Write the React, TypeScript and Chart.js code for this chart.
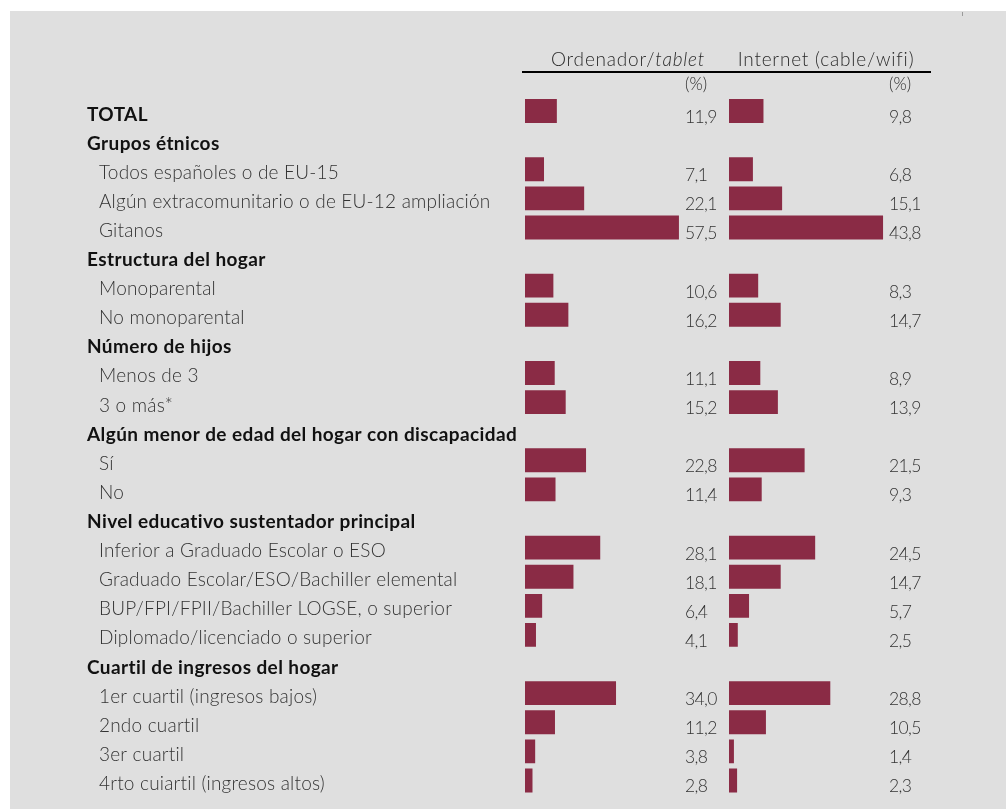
import React, { useEffect, useRef } from 'react';
import { Chart, registerables } from 'chart.js';

Chart.register(...registerables);

const rowLabels = [
  'TOTAL',
  'Grupos étnicos',
  'Todos españoles o de EU-15',
  'Algún extracomunitario o de EU-12 ampliación',
  'Gitanos',
  'Estructura del hogar',
  'Monoparental',
  'No monoparental',
  'Número de hijos',
  'Menos de 3',
  '3 o más*',
  'Algún menor de edad del hogar con discapacidad',
  'Sí',
  'No',
  'Nivel educativo sustentador principal',
  'Inferior a Graduado Escolar o ESO',
  'Graduado Escolar/ESO/Bachiller elemental',
  'BUP/FPI/FPII/Bachiller LOGSE, o superior',
  'Diplomado/licenciado o superior',
  'Cuartil de ingresos del hogar',
  '1er cuartil (ingresos bajos)',
  '2ndo cuartil',
  '3er cuartil',
  '4rto cuiartil (ingresos altos)',
];

const boldRows = [true, true, false, false, false, true, false, false, true, false, false, true, false, false, true, false, false, false, false, true, false, false, false, false];

const ordenadorValues = [11.9, null, 7.1, 22.1, 57.5, null, 10.6, 16.2, null, 11.1, 15.2, null, 22.8, 11.4, null, 28.1, 18.1, 6.4, 4.1, null, 34.0, 11.2, 3.8, 2.8];
const internetValues = [9.8, null, 6.8, 15.1, 43.8, null, 8.3, 14.7, null, 8.9, 13.9, null, 21.5, 9.3, null, 24.5, 14.7, 5.7, 2.5, null, 28.8, 10.5, 1.4, 2.3];

const columnTitles = [['Ordenador/', 'tablet'], ['Internet (cable/wifi)', '']];
const unitLabel = '(%)';

const BAR = '#8a2b45';
const FONT = 'Lato, "DejaVu Sans", sans-serif';

const fmt = (v: number) => v.toFixed(1).replace('.', ',');

const tablePlugin = {
  id: 'tablePlugin',
  beforeDraw(chart: any) {
    const ctx = chart.ctx;
    ctx.save();
    ctx.fillStyle = '#ffffff';
    ctx.fillRect(0, 0, chart.width, chart.height);
    ctx.fillStyle = '#dfdfdf';
    ctx.fillRect(10, 11, chart.width - 10, chart.height - 11);
    ctx.strokeStyle = '#9a9a9a';
    ctx.lineWidth = 1;
    ctx.beginPath();
    ctx.moveTo(962.5, 12);
    ctx.lineTo(962.5, 16);
    ctx.stroke();
    ctx.restore();
  },
  afterDatasetsDraw(chart: any) {
    const ctx = chart.ctx;
    const y = chart.scales.y;
    const xs = [chart.scales.x1, chart.scales.x2];
    const series = [ordenadorValues, internetValues];
    ctx.save();

    // column headers
    ctx.textBaseline = 'alphabetic';
    ctx.fillStyle = '#2a2a2a';
    ctx.letterSpacing = '0.8px';
    const headerCenters = [xs[0].left + 103, xs[1].left + 97];
    columnTitles.forEach((parts, i) => {
      ctx.font = `300 19px ${FONT}`;
      const w1 = ctx.measureText(parts[0]).width;
      ctx.font = `italic 300 19px ${FONT}`;
      const w2 = parts[1] ? ctx.measureText(parts[1]).width : 0;
      const start = headerCenters[i] - (w1 + w2) / 2;
      ctx.textAlign = 'left';
      ctx.font = `300 19px ${FONT}`;
      ctx.fillText(parts[0], start, 66);
      if (parts[1]) {
        ctx.font = `italic 300 19px ${FONT}`;
        ctx.fillText(parts[1], start + w1, 66);
      }
    });
    ctx.strokeStyle = '#000';
    ctx.lineWidth = 2;
    ctx.beginPath();
    ctx.moveTo(522, 72);
    ctx.lineTo(931, 72);
    ctx.stroke();

    ctx.letterSpacing = '0px';
    ctx.font = `300 17px ${FONT}`;
    ctx.textAlign = 'left';
    xs.forEach((s) => {
      ctx.fillText(unitLabel, s.left + 160, 90);
    });

    // row labels
    rowLabels.forEach((label, i) => {
      const cy = y.getPixelForValue(i);
      if (boldRows[i]) {
        ctx.font = `bold 19px ${FONT}`;
        ctx.letterSpacing = '0.4px';
        ctx.fillStyle = '#111111';
        ctx.fillText(label, 87, cy + 9.5);
      } else {
        ctx.font = `300 19px ${FONT}`;
        ctx.letterSpacing = '0.2px';
        ctx.fillStyle = '#333333';
        ctx.fillText(label, 99, cy + 9.5);
      }
    });

    // values
    ctx.font = `300 17.5px ${FONT}`;
    ctx.letterSpacing = '-0.6px';
    ctx.fillStyle = '#333333';
    series.forEach((vals, k) => {
      vals.forEach((v, i) => {
        if (v == null) return;
        const cy = y.getPixelForValue(i);
        ctx.fillText(fmt(v), xs[k].left + 160, cy + 12);
      });
    });
    ctx.restore();
  },
};

export default function App() {
  const ref = useRef<HTMLCanvasElement | null>(null);
  useEffect(() => {
    if (!ref.current) return;
    const chart = new Chart(ref.current, {
      type: 'bar',
      data: {
        labels: rowLabels,
        datasets: [
          { label: 'Ordenador/tablet', data: ordenadorValues, xAxisID: 'x1', backgroundColor: BAR, borderWidth: 0 },
          { label: 'Internet (cable/wifi)', data: internetValues, xAxisID: 'x2', backgroundColor: BAR, borderWidth: 0 },
        ],
      },
      options: {
        indexAxis: 'y',
        responsive: false,
        animation: false,
        events: [],
        grouped: false,
        barPercentage: 0.82,
        categoryPercentage: 1,
        layout: { padding: { left: 525, right: 73, top: 96.5, bottom: 14 } },
        plugins: { legend: { display: false }, tooltip: { enabled: false } },
        scales: {
          y: { type: 'category', display: false, offset: true },
          x1: { type: 'linear', position: 'bottom', stack: 'cols', stackWeight: 1, min: 0, max: 76.2, display: false },
          x2: { type: 'linear', position: 'bottom', stack: 'cols', stackWeight: 1, min: 0, max: 58.0, display: false },
        },
      } as any,
      plugins: [tablePlugin],
    });
    return () => chart.destroy();
  }, []);
  return (
    <div style={{ position: 'absolute', left: 0, top: 0, width: 1006, height: 809 }}>
      <canvas ref={ref} width={1006} height={809} style={{ display: 'block' }} />
    </div>
  );
}
